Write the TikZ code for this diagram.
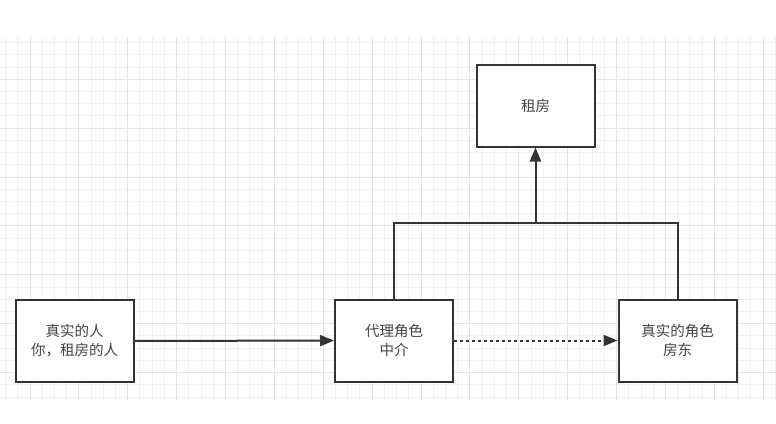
\documentclass[tikz,border=0pt]{standalone}
\usepackage{fontspec}
\usepackage{tikz}
\usetikzlibrary{arrows.meta}
\usetikzlibrary{calc}
\usetikzlibrary{positioning}
\newfontfamily\cjk{Noto Sans CJK SC}
\definecolor{grid-minor}{HTML}{F1F1F1}
\definecolor{grid-major}{HTML}{E4E4E4}
\definecolor{box-line}{HTML}{333333}
\definecolor{box-text}{HTML}{444444}

\begin{document}
\begin{tikzpicture}[x=1pt, y=-1pt]

    \useasboundingbox[fill=white] (0,0) rectangle (776,423);

    % grid
    \begin{scope}
        \clip (0,37) rectangle (776,400);
        \foreach \k in {0,...,66}
            \draw[color=grid-minor, line width=1pt] ({-6.66+12.22*\k},37) -- ++(0,363);
        \foreach \k in {0,...,31}
            \draw[color=grid-minor, line width=1pt] (0,{30.4+12.22*\k}) -- ++(776,0);
        \foreach \k in {0,...,16}
            \draw[color=grid-major, line width=1pt] ({30+48.88*(\k-1)},37) -- ++(0,363);
        \foreach \k in {0,...,7}
            \draw[color=grid-major, line width=1pt] (0,{79.3+48.88*(\k-1)}) -- ++(776,0);
    \end{scope}

    % boxes
    \begin{scope}[every node/.style={rectangle, draw=box-line, fill=white, line width=2pt,
                  minimum width=118pt, minimum height=82pt, align=center,
                  text=box-text, font=\cjk\fontsize{14.5}{19}\selectfont}]
        \node (rent) at (535.5,105.5) {租房};
        \node (renter) at (74.5,341) {真实的人\\你，租房的人};
        \node (proxy) at (394,340.5) {代理角色\\中介};
        \node (landlord) at (677.5,340.5) {真实的角色\\房东};
    \end{scope}

    % edges
    \coordinate (jn) at (rent.south |- 0,223);
    \begin{scope}[every path/.style={draw=box-line, line width=2pt},
                  >={Triangle[length=14pt, width=11pt]}]
        \draw (proxy.north) |- (jn) -| (landlord.north);
        \draw[->] (jn) -- (rent.south);
        \draw[->] (renter) -- (proxy);
        \draw[->, dash pattern=on 2.5pt off 3.5pt] (proxy) -- (landlord);
    \end{scope}

\end{tikzpicture}
\end{document}
